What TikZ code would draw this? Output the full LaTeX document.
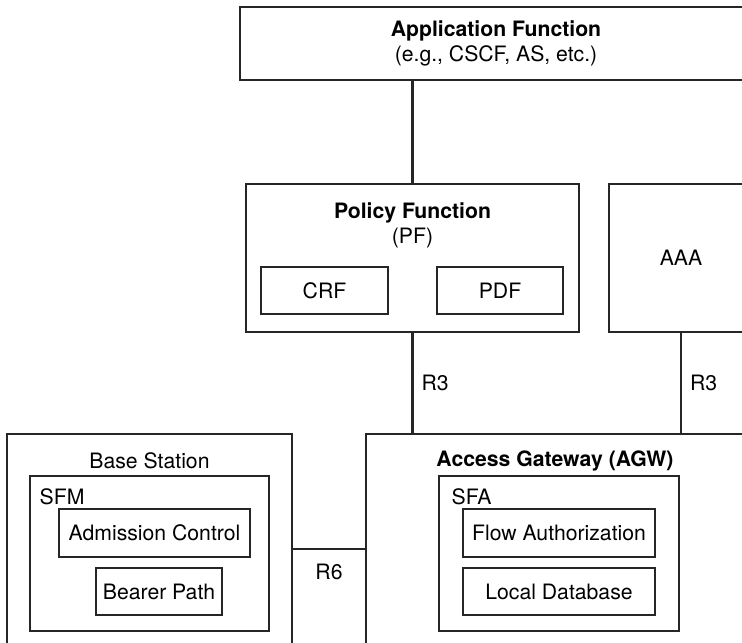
\documentclass[tikz,border=0pt]{standalone}
\usepackage{fontspec}
\setmainfont{TeX Gyre Heros}
\usetikzlibrary{positioning}

\begin{document}
\begin{tikzpicture}[x=0.5pt, y=-0.5pt, font=\fontsize{10.6pt}{12.5pt}\selectfont,
  box/.style={draw=black!85, line width=0.7pt, inner sep=0pt},
  ttl/.style={align=center, inner sep=0pt},
  lnk/.style={draw=black!85, line width=1.1pt},
  lbl/.style={inner sep=0pt}]
\useasboundingbox (0,0) rectangle (742,642);
\clip (0,0) rectangle (742,642);
% top row
\node[box, minimum width=256pt, minimum height=36.5pt, align=center] (af) at (496,43.5) {\textbf{Application Function}\\(e.g., CSCF, AS, etc.)};
\node[box, minimum width=166.5pt, minimum height=74pt] (pf) at (412.5,258) {};
\node[ttl, below=9.5pt of pf.north] (pft) {\textbf{Policy Function}\\(PF)};
\node[box, minimum width=63.5pt, minimum height=23.5pt] (crf) at (324.5,290.5) {CRF};
\node[box, minimum width=63pt, minimum height=23.5pt] (pdf) at (500,290.5) {PDF};
\node[box, minimum width=72pt, minimum height=74pt] (aaa) at (681,258) {AAA};
% base station
\node[box, minimum width=142.5pt, minimum height=115pt] (bs) at (149.5,549) {};
\node[ttl, below=9.5pt of bs.north] (bst) {Base Station};
\node[box, minimum width=119.5pt, minimum height=77.5pt] (sfm) at (149.5,553.5) {};
\node[lbl, below right=6.7pt and 5pt of sfm.north west] (sfmt) {SFM};
\node[box, minimum width=95.5pt, minimum height=24pt] (adm) at (154.5,533) {Admission Control};
\node[box, minimum width=63pt, minimum height=23.5pt] (bp) at (159,591.5) {Bearer Path};
% access gateway
\node[box, minimum width=189pt, minimum height=115pt] (agw) at (555,549) {};
\node[ttl, below=8.5pt of agw.north] (agwt) {\textbf{Access Gateway (AGW)}};
\node[box, minimum width=120pt, minimum height=77.5pt] (sfa) at (559,553.5) {};
\node[lbl, below right=6.7pt and 6.5pt of sfa.north west] (sfat) {SFA};
\node[box, minimum width=96pt, minimum height=24pt] (fa) at (559,533) {Flow Authorization};
\node[box, minimum width=96pt, minimum height=23.5pt] (ld) at (559,591.5) {Local Database};
% links
\draw[lnk] (pf.north) -- (pf.north |- af.south);
\draw[lnk] (pf.south) -- node[lbl, right=4pt] (r3a) {R3} (pf.south |- agw.north);
\draw[lnk] (aaa.south) -- node[lbl, right=4pt] (r3b) {R3} (aaa.south |- agw.north);
\draw[lnk] (bs.east) -- node[lbl, below=7pt] (r6) {R6} (agw.west);
\end{tikzpicture}
\end{document}
